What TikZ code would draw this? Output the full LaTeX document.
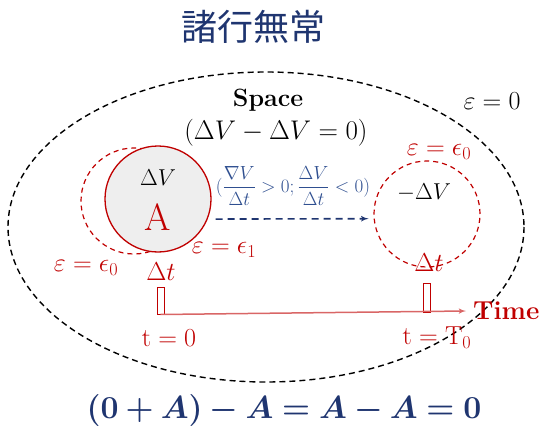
\RequirePackage{fix-cm}
\documentclass[tikz,border=0pt]{standalone}
\usepackage{fontspec}
\usepackage{amsmath}
\usepackage{bm}
\usepackage{xcolor}
\usetikzlibrary{arrows, positioning, calc}
\newfontfamily\cjkfont{Noto Sans CJK JP}
\definecolor{navy}{HTML}{1F3570}
\definecolor{skyblue}{HTML}{2F4F90}
\definecolor{darkred}{HTML}{C00000}
\newcommand{\fs}[1]{\fontsize{#1}{#1}\selectfont}
\tikzstyle{outer} = [draw=black, line width=1.4pt, dash pattern=on 6pt off 4pt]
\tikzstyle{ballA} = [circle, draw=darkred, fill=gray!13, line width=1.3pt, minimum size=106pt, inner sep=0pt]
\tikzstyle{ghost} = [circle, draw=darkred, line width=1.2pt, dash pattern=on 5pt off 4pt, minimum size=106pt, inner sep=0pt]
\tikzstyle{tickbox} = [rectangle, draw=darkred, line width=1pt, minimum width=7pt, inner sep=0pt]
\tikzstyle{redlbl} = [text=darkred, font=\fs{26}, inner sep=0pt]
\tikzstyle{flow} = [draw=navy, line width=1.6pt, dash pattern=on 7pt off 5pt, -latex']
\tikzstyle{timeline} = [draw=darkred!60, line width=1.5pt, -latex']

\begin{document}
\begin{tikzpicture}[x=1pt, y=-1pt]
    \useasboundingbox (0,0) rectangle (546,433);
    \node (title) [text=navy, font=\cjkfont\fs{36}] at (253,27) {諸行無常};

    \draw[outer] (266,227) ellipse [x radius=258, y radius=155];
    \node (space) [font=\bfseries\fs{25}] at (268,100) {Space};
    \node (spaceeq) [font=\fs{27}] at (276,133) {$(\Delta V-\Delta V=0)$};
    \node (epszero) [font=\fs{26}] at (492,101) {$\varepsilon=0$};

    % the body A and its trace
    \node (ghostL) [ghost] at (134,201) {};
    \node (bodyA) [ballA] at (158,199) {};
    \node (dvA) [font=\fs{23}] at (158,178) {$\Delta V$};
    \node (letterA) [text=darkred, font=\fs{38}] at (158,217) {A};
    \node (epsL) [redlbl] at (86,268) {$\varepsilon=\epsilon_0$};
    \node (dtL) [redlbl] at (161,272) {$\Delta t$};
    \node (epsA) [redlbl] at (224,250) {$\varepsilon=\epsilon_1$};

    % the place it goes to
    \node (ghostR) [ghost] at (427,214) {};
    \node (epsR) [redlbl] at (439,152) {$\varepsilon=\epsilon_0$};
    \node (dvR) [font=\fs{23}] at (424,193) {$-\Delta V$};
    \node (dtR) [redlbl] at (429,263) {$\Delta t$};

    \draw[flow, shorten <=8pt, shorten >=5pt] (bodyA.-22) -- (ghostR.185);
    \node (rate) [text=skyblue, font=\fs{19}] at (293,186) {$(\dfrac{\nabla V}{\Delta t}>0;\dfrac{\Delta V}{\Delta t}<0)$};

    % time axis
    \node (tick0) [tickbox, minimum height=27pt] at (160.5,300.5) {};
    \node (tick1) [tickbox, minimum height=29pt] at (427,297.5) {};
    \coordinate (tend) at (466,311);
    \draw[timeline] (tick0.south) -- (tend);
    \node (timelbl) [text=darkred, font=\bfseries\fs{26}, anchor=west, inner sep=0pt] at (473,311) {Time};
    \node (tzero) [redlbl] at (169,338) {$\mathrm{t}=0$};
    \node (tend0) [redlbl] at (437,338) {$\mathrm{t}=\mathrm{T}_0$};

    \node (law) [text=navy, font=\fs{32}] at (284,410) {$\bm{(0+A)-A=A-A=0}$};
\end{tikzpicture}
\end{document}
